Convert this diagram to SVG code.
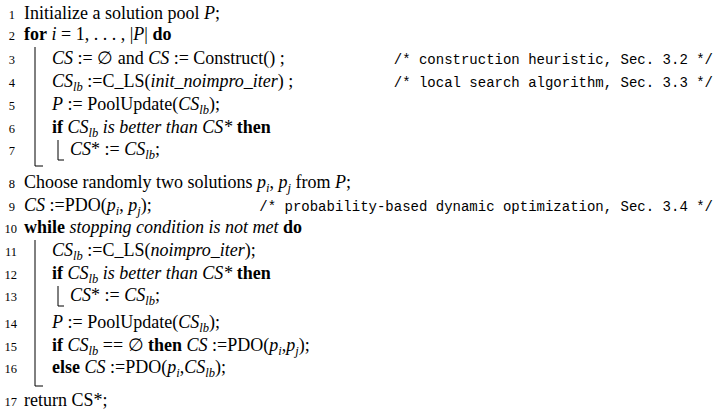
<svg xmlns="http://www.w3.org/2000/svg" width="716" height="415" viewBox="0 0 716 415">
<style>
text{font-family:"Liberation Serif",serif;font-size:18px;fill:#000}
.n{font-size:12.5px}
.c{font-family:"Liberation Mono",monospace;font-size:14px}
.i{font-style:italic}
.b{font-weight:bold}
.s{font-size:12.5px;font-style:italic}
line{stroke:#000;stroke-width:1}
</style>
<rect width="716" height="415" fill="#fff"/>
<g id="numbers" text-anchor="end">
<text class="n" x="15" y="19">1</text><text class="n" x="15" y="40">2</text><text class="n" x="15" y="64">3</text><text class="n" x="15" y="87">4</text><text class="n" x="15" y="110">5</text><text class="n" x="15" y="133">6</text><text class="n" x="15" y="155">7</text><text class="n" x="15" y="188">8</text><text class="n" x="15" y="211">9</text><text class="n" x="17" y="233">10</text><text class="n" x="17" y="256">11</text><text class="n" x="17" y="279">12</text><text class="n" x="17" y="301">13</text><text class="n" x="17" y="328">14</text><text class="n" x="17" y="351">15</text><text class="n" x="17" y="373">16</text><text class="n" x="17" y="406">17</text>
</g>
<g id="bars">
<line x1="35" y1="47" x2="35" y2="166"/><line x1="35" y1="166" x2="43" y2="166"/>
<line x1="58" y1="140" x2="58" y2="160"/><line x1="58" y1="160" x2="64" y2="160"/>
<line x1="35" y1="240" x2="35" y2="386"/><line x1="35" y1="386" x2="43" y2="386"/>
<line x1="58" y1="286" x2="58" y2="306"/><line x1="58" y1="306" x2="64" y2="306"/>
</g>
<g id="lines">
<text x="24" y="19">Initialize a solution pool <tspan class="i">P</tspan>;</text>
<text x="24" y="40"><tspan class="b">for</tspan> <tspan class="i">i</tspan> = 1, . . . , |<tspan class="i">P</tspan>| <tspan class="b">do</tspan></text>
<text x="52" y="64"><tspan class="i">CS</tspan> := ∅ and <tspan class="i">CS</tspan> := Construct() ;</text>
<text x="52" y="87"><tspan class="i">CS</tspan><tspan class="s" dy="4">lb</tspan><tspan dy="-4"> :=C_LS(</tspan><tspan class="i">init_noimpro_iter</tspan>) ;</text>
<text x="52" y="110"><tspan class="i">P</tspan> := PoolUpdate(<tspan class="i">CS</tspan><tspan class="s" dy="4">lb</tspan><tspan dy="-4">);</tspan></text>
<text x="52" y="133"><tspan class="b">if</tspan> <tspan class="i">CS</tspan><tspan class="s" dy="4">lb</tspan><tspan class="i" dy="-4"> is better than CS*</tspan> <tspan class="b">then</tspan></text>
<text x="70" y="155"><tspan class="i">CS</tspan>* := <tspan class="i">CS</tspan><tspan class="s" dy="4">lb</tspan><tspan dy="-4">;</tspan></text>
<text x="24" y="188">Choose randomly two solutions <tspan class="i">p</tspan><tspan class="s" dy="4">i</tspan><tspan dy="-4">, </tspan><tspan class="i">p</tspan><tspan class="s" dy="4">j</tspan><tspan dy="-4"> from </tspan><tspan class="i">P</tspan>;</text>
<text x="24" y="211"><tspan class="i">CS</tspan> :=PDO(<tspan class="i">p</tspan><tspan class="s" dy="4">i</tspan><tspan dy="-4">, </tspan><tspan class="i">p</tspan><tspan class="s" dy="4">j</tspan><tspan dy="-4">);</tspan></text>
<text x="24" y="233"><tspan class="b">while</tspan> <tspan class="i">stopping condition is not met</tspan> <tspan class="b">do</tspan></text>
<text x="52" y="256"><tspan class="i">CS</tspan><tspan class="s" dy="4">lb</tspan><tspan dy="-4"> :=C_LS(</tspan><tspan class="i">noimpro_iter</tspan>);</text>
<text x="52" y="279"><tspan class="b">if</tspan> <tspan class="i">CS</tspan><tspan class="s" dy="4">lb</tspan><tspan class="i" dy="-4"> is better than CS*</tspan> <tspan class="b">then</tspan></text>
<text x="70" y="301"><tspan class="i">CS</tspan>* := <tspan class="i">CS</tspan><tspan class="s" dy="4">lb</tspan><tspan dy="-4">;</tspan></text>
<text x="52" y="328"><tspan class="i">P</tspan> := PoolUpdate(<tspan class="i">CS</tspan><tspan class="s" dy="4">lb</tspan><tspan dy="-4">);</tspan></text>
<text x="52" y="351"><tspan class="b">if</tspan> <tspan class="i">CS</tspan><tspan class="s" dy="4">lb</tspan><tspan dy="-4"> == ∅ </tspan><tspan class="b">then</tspan> <tspan class="i">CS</tspan> :=PDO(<tspan class="i">p</tspan><tspan class="s" dy="4">i</tspan><tspan dy="-4">,</tspan><tspan class="i">p</tspan><tspan class="s" dy="4">j</tspan><tspan dy="-4">);</tspan></text>
<text x="52" y="373"><tspan class="b">else</tspan> <tspan class="i">CS</tspan> :=PDO(<tspan class="i">p</tspan><tspan class="s" dy="4">i</tspan><tspan dy="-4">,</tspan><tspan class="i">CS</tspan><tspan class="s" dy="4">lb</tspan><tspan dy="-4">);</tspan></text>
<text x="24" y="406">return CS*;</text>
</g>
<g id="comments" xml:space="preserve">
<text class="c" x="713" y="64" text-anchor="end">/* construction heuristic, Sec.  3.2 */</text>
<text class="c" x="713" y="87" text-anchor="end">/* local search algorithm, Sec.  3.3 */</text>
<text class="c" x="713" y="211" text-anchor="end">/* probability-based dynamic optimization, Sec.  3.4 */</text>
</g>
</svg>
